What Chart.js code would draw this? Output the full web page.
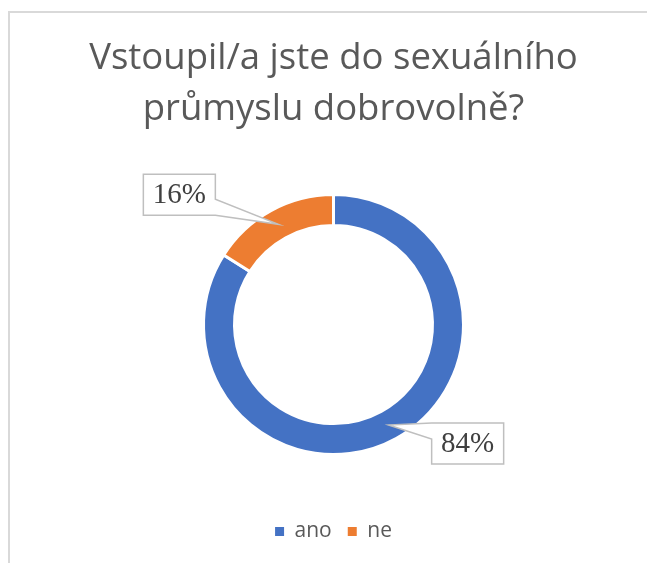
<!DOCTYPE html>
<html>
<head>
<meta charset="utf-8">
<script src="https://cdn.jsdelivr.net/npm/chart.js@4/dist/chart.umd.min.js"></script>
<style>
  html, body { margin: 0; padding: 0; background: #ffffff; }
  #wrap { width: 647px; height: 563px; position: relative; }
</style>
</head>
<body>
<div id="wrap"><canvas id="c" width="647" height="563"></canvas></div>
<script>
// ---- data ----
const titleLines = ['Vstoupil/a jste do sexuálního', 'průmyslu dobrovolně?'];
const categories = ['ano', 'ne'];
const values = [84, 16];
const colors = ['#4472C4', '#ED7D31'];

// ---- plugins ----
const framePlugin = {
  id: 'frame',
  beforeDraw(chart) {
    const ctx = chart.ctx;
    ctx.save();
    ctx.strokeStyle = '#d9d9d9';
    ctx.lineWidth = 2;
    ctx.beginPath();
    ctx.moveTo(9, 563);
    ctx.lineTo(9, 12);
    ctx.lineTo(647, 12);
    ctx.stroke();
    ctx.restore();
  }
};

// offsets of label box centres from the leader tip (layout only)
const boxOffsets = [{dx: 79, dy: 18.5}, {dx: -99, dy: -29.5}];
const calloutPlugin = {
  id: 'callouts',
  afterDatasetsDraw(chart) {
    const ctx = chart.ctx;
    const meta = chart.getDatasetMeta(0);
    const data = chart.data.datasets[0].data;
    const total = data.reduce((a, b) => a + b, 0);
    const bw = 72, bh = 41, wedge = 16;
    ctx.save();
    meta.data.forEach((arc, i) => {
      const p = arc.getProps(['x', 'y', 'startAngle', 'endAngle', 'innerRadius', 'outerRadius'], true);
      const mid = (p.startAngle + p.endAngle) / 2;
      const rr = (p.innerRadius + p.outerRadius) / 2;
      const tx = p.x + Math.cos(mid) * rr;
      const ty = p.y + Math.sin(mid) * rr;
      const cx = tx + boxOffsets[i].dx;
      const cy = ty + boxOffsets[i].dy;
      const L = cx - bw / 2, R = cx + bw / 2, T = cy - bh / 2, B = cy + bh / 2;
      const right = tx > cx;
      const top = ty < cy;
      ctx.beginPath();
      if (right && !top) {
        ctx.moveTo(L, T); ctx.lineTo(R, T); ctx.lineTo(R, B - wedge);
        ctx.lineTo(tx, ty); ctx.lineTo(R, B); ctx.lineTo(L, B);
      } else if (right && top) {
        ctx.moveTo(L, T); ctx.lineTo(R, T); ctx.lineTo(tx, ty);
        ctx.lineTo(R, T + wedge); ctx.lineTo(R, B); ctx.lineTo(L, B);
      } else if (!right && top) {
        ctx.moveTo(L, T); ctx.lineTo(tx, ty); ctx.lineTo(L, T + wedge);
        ctx.lineTo(L, B); ctx.lineTo(R, B); ctx.lineTo(R, T);
      } else {
        ctx.moveTo(L, T); ctx.lineTo(L, B - wedge); ctx.lineTo(tx, ty);
        ctx.lineTo(L, B); ctx.lineTo(R, B); ctx.lineTo(R, T);
      }
      ctx.closePath();
      ctx.fillStyle = '#ffffff';
      ctx.fill();
      ctx.strokeStyle = '#bfbfbf';
      ctx.lineWidth = 1.5;
      ctx.stroke();
      ctx.fillStyle = '#404040';
      ctx.font = '29px "Liberation Serif", "Times New Roman", serif';
      ctx.textAlign = 'center';
      ctx.textBaseline = 'middle';
      const pct = Math.round(data[i] / total * 100) + '%';
      ctx.fillText(pct, cx, cy + 1);
    });
    ctx.restore();
  }
};

new Chart(document.getElementById('c'), {
  type: 'doughnut',
  data: {
    labels: categories,
    datasets: [{
      data: values,
      backgroundColor: colors,
      borderColor: '#ffffff',
      borderWidth: 3
    }]
  },
  options: {
    responsive: false,
    animation: false,
    events: [],
    radius: 130,
    cutout: '76.15%',
    layout: { padding: { left: 20, right: 0, top: 0, bottom: 11 } },
    plugins: {
      title: {
        display: true,
        text: titleLines,
        color: '#595959',
        font: { family: '"Open Sans", sans-serif', size: 36.5, weight: 'normal', lineHeight: 1.4 },
        padding: { top: 33, bottom: 9 }
      },
      legend: {
        position: 'bottom',
        labels: {
          color: '#595959',
          font: { family: '"Open Sans", sans-serif', size: 21 },
          boxWidth: 9,
          boxHeight: 9,
          padding: 16,
          generateLabels(chart) {
            const items = Chart.overrides.doughnut.plugins.legend.labels.generateLabels(chart);
            items.forEach(it => { it.lineWidth = 0; it.strokeStyle = 'rgba(0,0,0,0)'; });
            return items;
          }
        }
      },
      tooltip: { enabled: false }
    }
  },
  plugins: [framePlugin, calloutPlugin]
});
</script>
</body>
</html>
